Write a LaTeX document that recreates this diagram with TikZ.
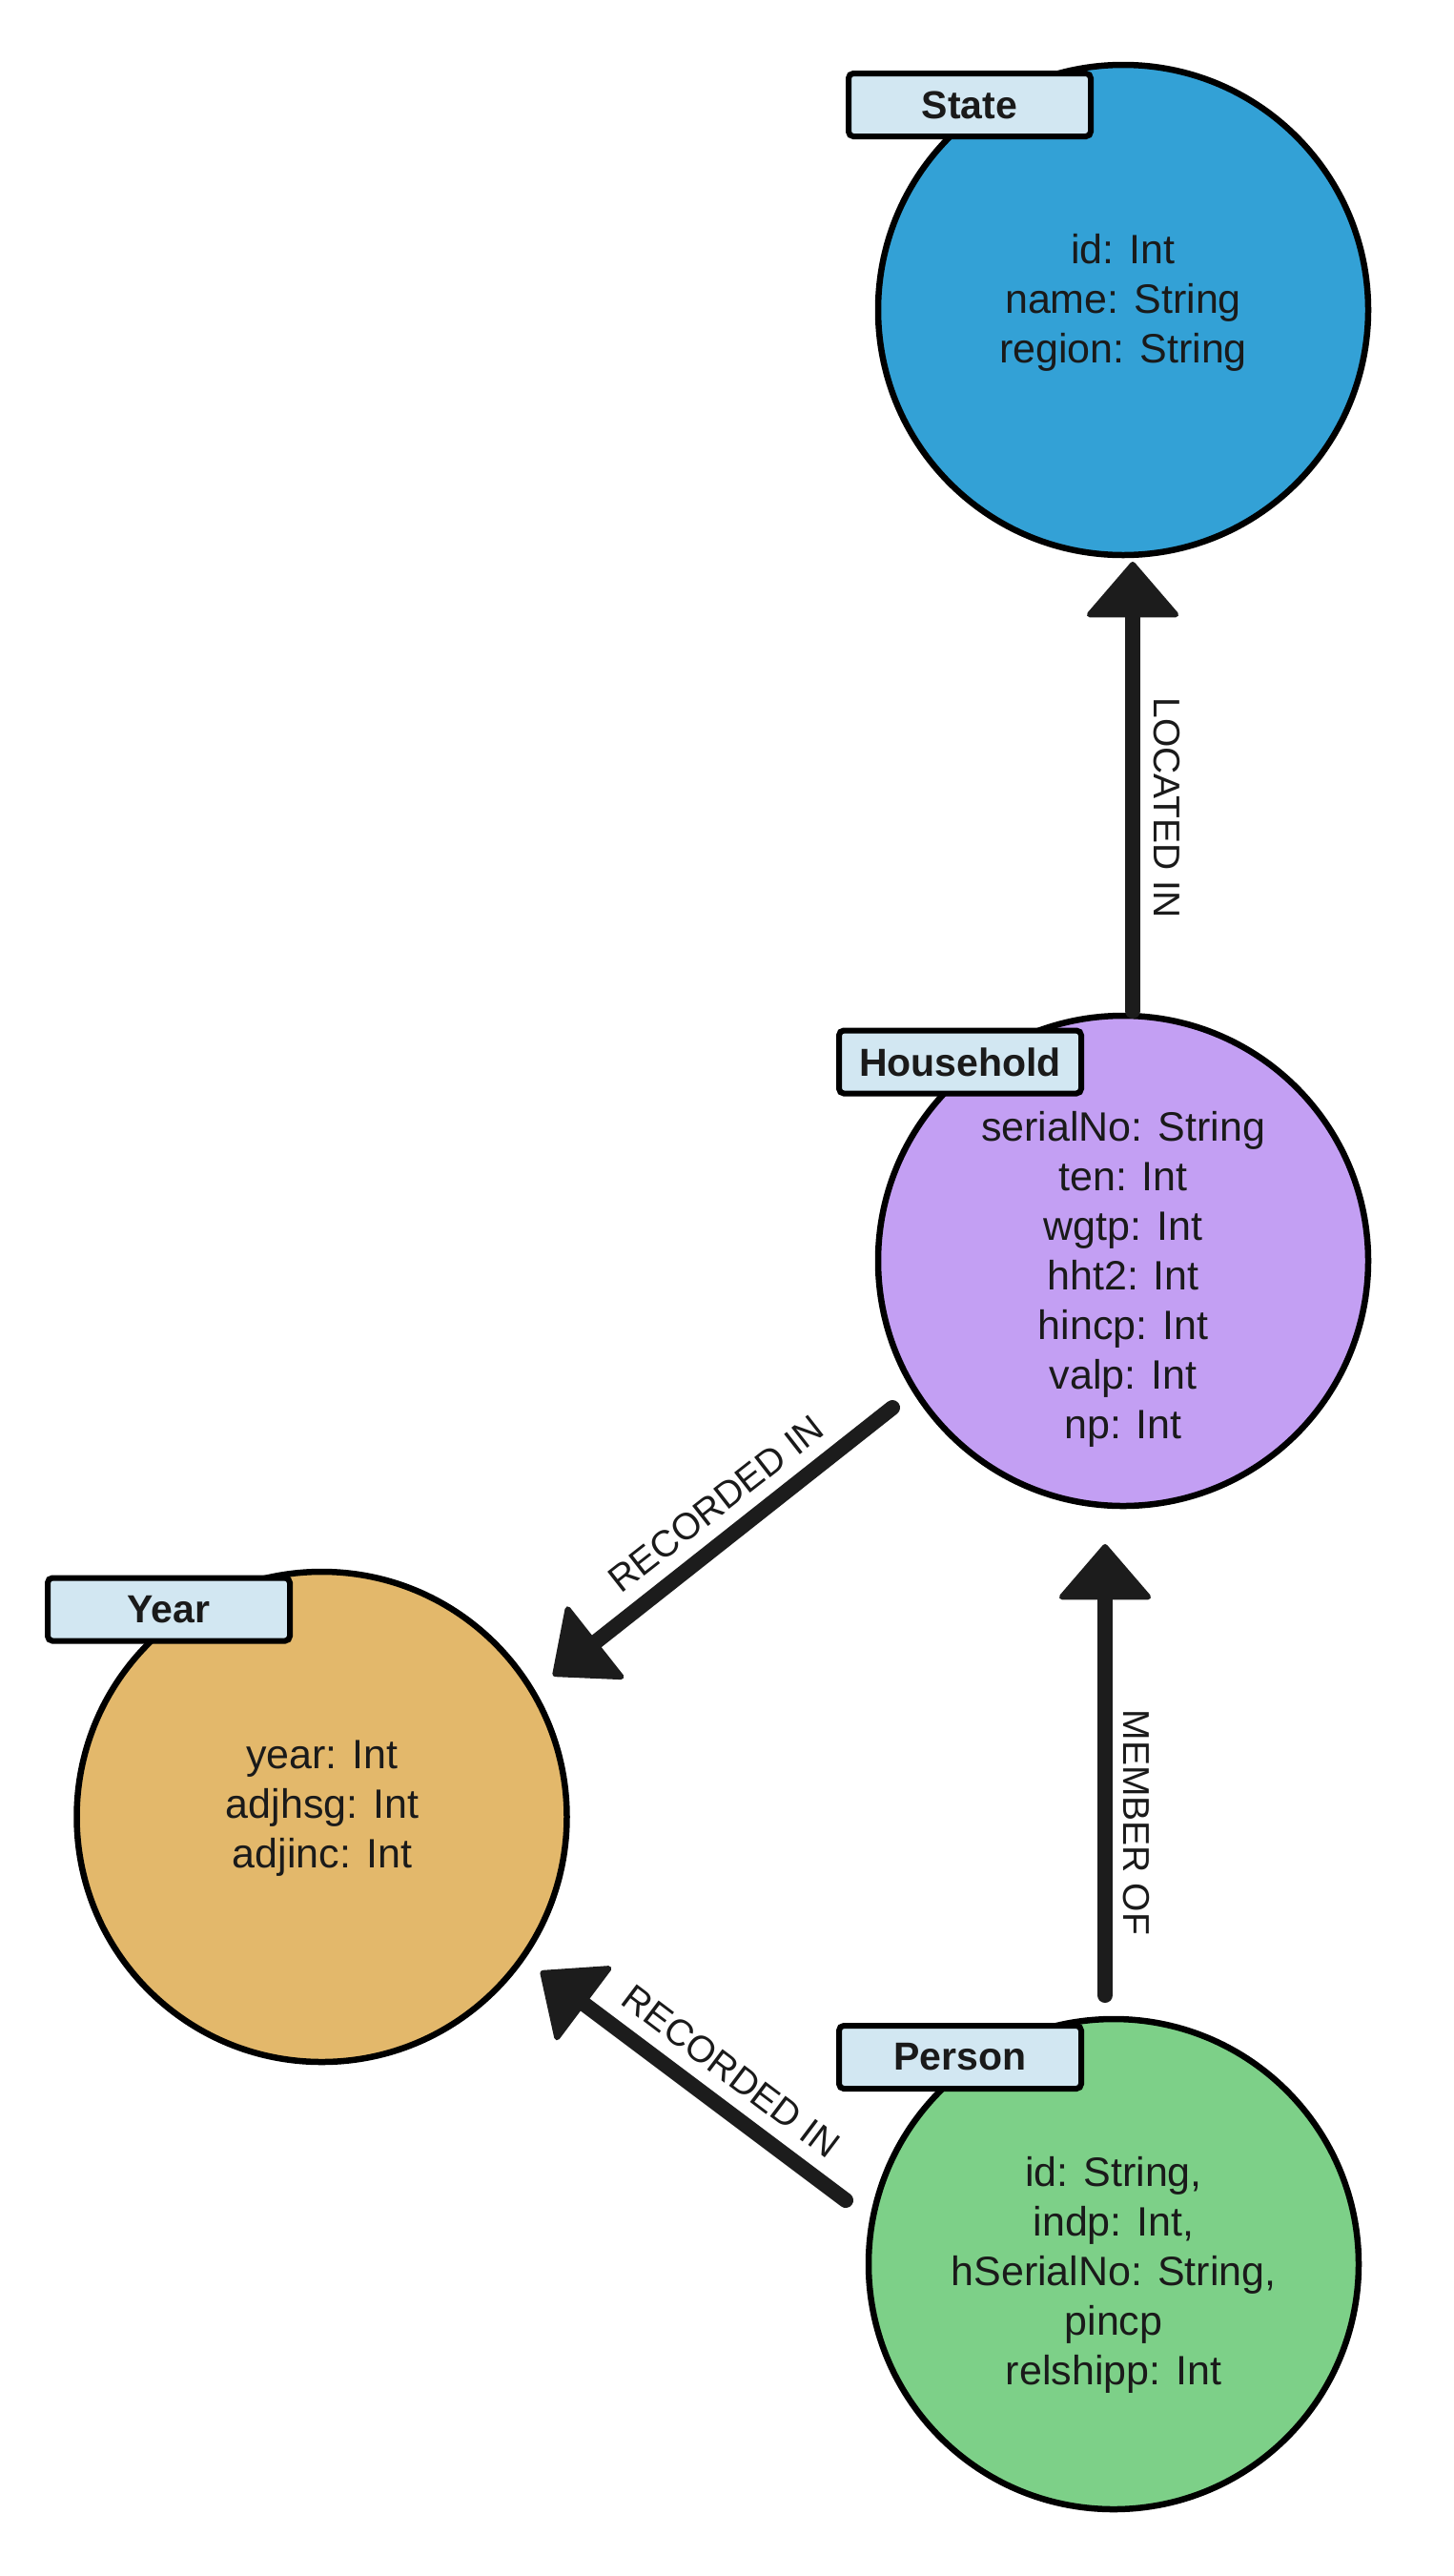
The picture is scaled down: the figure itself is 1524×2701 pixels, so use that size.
\documentclass[tikz,border=0pt]{standalone}
\usepackage{fontspec}
\setmainfont{Liberation Sans}
\usetikzlibrary{arrows.meta,calc}
\definecolor{cstate}{HTML}{33A1D6}
\definecolor{chh}{HTML}{C39FF3}
\definecolor{cyear}{HTML}{E3B86B}
\definecolor{cperson}{HTML}{7DD088}
\definecolor{clbl}{HTML}{D2E7F2}
\definecolor{ctxt}{HTML}{1A1A1A}
\definecolor{carr}{HTML}{1C1C1C}
\begin{document}
\begin{tikzpicture}[x=1pt,y=-1pt,
  ent/.style={circle, draw=black, line width=6.5pt, minimum size=514pt, inner sep=0pt},
  lbl/.style={draw=black, fill=clbl, line width=6pt, rounded corners=5pt, minimum width=254pt, minimum height=66pt, inner sep=0pt, font=\fontsize{41}{49}\selectfont\bfseries, text=ctxt},
  prop/.style={align=center, inner sep=0pt, font=\fontsize{43}{52}\selectfont, text=ctxt},
  elbl/.style={inner sep=0pt, font=\fontsize{39}{47}\selectfont, text=ctxt},
  arr/.style={draw=carr, line width=16pt, line cap=round, -{Triangle[width=102pt,length=60pt,line width=6pt,round]}}
]
\useasboundingbox (0,0) rectangle (1524,2701);
\fill[white] (0,0) rectangle (1524,2701);

% entities
\node[ent, fill=cstate]  (state)  at (1178,325)  {};
\node[ent, fill=chh]     (hh)     at (1178,1322) {};
\node[ent, fill=cyear]   (year)   at (337.5,1905) {};
\node[ent, fill=cperson] (person) at (1168,2374) {};

% properties
\node[prop] (statetxt) at (1178,317) {id: Int\\name: String\\region: String};
\node[prop] (hhtxt) at (1178,1341) {serialNo: String\\ten: Int\\wgtp: Int\\hht2: Int\\hincp: Int\\valp: Int\\np: Int};
\node[prop] (yeartxt) at (338,1896) {year: Int\\adjhsg: Int\\adjinc: Int};
\node[prop] (persontxt) at (1168,2385) {id: String,\\indp: Int,\\hSerialNo: String,\\pincp\\relshipp: Int};

% type labels
\node[lbl] (statelbl)  at (1017,110)    {State};
\node[lbl] (hhlbl)     at (1007,1113.5) {Household};
\node[lbl] (yearlbl)   at (177,1687.5)  {Year};
\node[lbl] (personlbl) at (1007,2157)   {Person};

% connector end points
\coordinate (e1s) at ($(hh.center)+(10,-262)$);
\coordinate (e1e) at ($(state.center)+(10,264)$);
\coordinate (e2s) at ($(person.center)+(-9,-282)$);
\coordinate (e2e) at ($(hh.center)+(-19,297)$);
\coordinate (e3s) at ($(hh.center)+(-242,154)$);
\coordinate (e3e) at ($(year.center)+(242.5,-148)$);
\coordinate (e4s) at ($(person.center)+(-281,-67)$);
\coordinate (e4e) at ($(year.center)+(229.5,162)$);

\draw[arr] (e1s) -- (e1e);
\draw[arr] (e2s) -- (e2e);
\draw[arr] (e3s) -- (e3e);
\draw[arr] (e4s) -- (e4e);

% connector labels
\node[elbl, rotate=-90] (l1) at (1224,847)  {LOCATED IN};
\node[elbl, rotate=-90] (l2) at (1192,1911) {MEMBER OF};
\node[elbl, rotate=38]  (l3) at (751,1577)  {RECORDED IN};
\node[elbl, rotate=-37] (l4) at (767,2172)  {RECORDED IN};
\end{tikzpicture}
\end{document}
